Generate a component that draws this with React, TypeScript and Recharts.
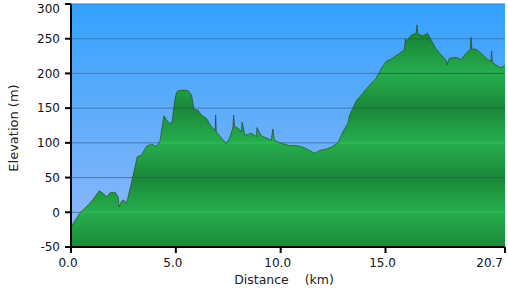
import { AreaChart, Area, XAxis, YAxis, CartesianGrid } from 'recharts';

// elevation profile (km, m)
const distanceKm = [
  0.0, 0.19, 0.43, 0.67, 0.9, 1.14, 1.35, 1.54, 1.7, 1.86, 2.1, 2.25, 2.3, 2.4, 2.49, 2.65,
  2.84, 2.97, 3.16, 3.37, 3.6, 3.84, 4.08, 4.24, 4.43, 4.56, 4.71, 4.82, 4.95, 5.03, 5.11,
  5.35, 5.59, 5.75, 5.87, 6.06, 6.22, 6.46, 6.7, 6.88, 6.9, 6.93, 7.17, 7.41, 7.57, 7.72,
  7.76, 7.8, 7.97, 8.13, 8.16, 8.29, 8.6, 8.84, 8.87, 9.08, 9.32, 9.55, 9.63, 9.7, 9.95,
  10.43, 10.75, 11.06, 11.38, 11.62, 11.86, 12.18, 12.49, 12.73, 12.97, 13.2, 13.29, 13.6,
  13.9, 14.24, 14.56, 14.8, 15.03, 15.35, 15.67, 15.9, 15.95, 15.98, 16.22, 16.46, 16.5,
  16.54, 16.78, 17.0, 17.18, 17.4, 17.64, 17.89, 17.92, 18.05, 18.37, 18.6, 18.84, 19.04,
  19.08, 19.12, 19.32, 19.56, 19.8, 20.03, 20.06, 20.1, 20.27, 20.51, 20.7,
];
const elevationM = [
  -21, -12, -1, 6, 13, 22, 31, 27, 22, 28, 29, 22, 8, 15, 18, 13,
  37, 54, 80, 83, 95, 98, 95, 102, 139, 133, 128, 130, 162, 172, 175,
  176, 175, 169, 148, 147, 140, 135, 123, 118, 140, 116, 107, 99, 107, 122,
  140, 124, 121, 116, 130, 111, 114, 109, 122, 110, 107, 104, 120, 104, 100,
  96, 96, 94, 89, 85, 89, 91, 95, 100, 116, 128, 140, 160,
  171, 183, 193, 207, 217, 222, 229, 234, 250, 246, 255, 258, 270,
  257, 254, 258, 248, 236, 227, 219, 212, 222, 223, 220, 229, 234,
  252, 235, 235, 229, 222, 217, 232, 216, 212, 208, 212,
];
const distanceTicks = [0, 5, 10, 15, 20.7];
const elevationTicks = [-50, 0, 50, 100, 150, 200, 250, 300];

const data = distanceKm.map((d, i) => ({ d, e: elevationM[i] }));

const TOP = 4;
const BOTTOM = 247;
const FONT = 'DejaVu Sans, Verdana, sans-serif';

const off = (v: number) => (300 - v) / 350;
const px = 0.5 / (BOTTOM - TOP);

// banded green fill, light at each hundred, dark at each odd fifty
const greenStops: { o: number; c: string }[] = [];
for (let v = 300; v >= -50; v -= 50) {
  const light = v % 100 === 0;
  const base = light ? '#25ad4c' : '#1b893a';
  const line = v === 0 || v === 100 ? '#2db656' : '#17773a';
  const o = off(v);
  if (v < 300 && v > -50) {
    greenStops.push({ o: o - px * 2, c: base });
    greenStops.push({ o: o - px, c: line });
    greenStops.push({ o: o + px, c: line });
    greenStops.push({ o: o + px * 2, c: base });
  } else {
    greenStops.push({ o, c: base });
  }
}

function XTick(props: any) {
  const { x, y, payload } = props;
  const last = payload.value === distanceTicks[distanceTicks.length - 1];
  return (
    <text
      x={last ? 503 : x - 3}
      y={y}
      dy="0.71em"
      textAnchor={last ? 'end' : 'middle'}
      fill="#111"
      fontSize={12}
      fontFamily={FONT}
    >
      {payload.value.toFixed(1)}
    </text>
  );
}

function YTick(props: any) {
  const { x, y, payload } = props;
  return (
    <text
      x={x}
      y={Math.max(y, 9)}
      dy="0.355em"
      textAnchor="end"
      fill="#111"
      fontSize={12}
      fontFamily={FONT}
    >
      {payload.value}
    </text>
  );
}

export default function App() {
  return (
    <div style={{ width: 508, height: 296, background: '#fff' }}>
      <style>{'body{margin:0}'}</style>
      <AreaChart
        width={508}
        height={296}
        data={data}
        margin={{ top: TOP, right: 3, left: 0, bottom: 0 }}
      >
        <defs>
          <linearGradient id="sky" x1="0" y1="0" x2="0" y2="1">
            <stop offset="0%" stopColor="#34a2fe" />
            <stop offset="100%" stopColor="#93b9f9" />
          </linearGradient>
          <linearGradient id="ground" gradientUnits="userSpaceOnUse" x1="0" y1={TOP} x2="0" y2={BOTTOM}>
            {greenStops.map((s, i) => (
              <stop key={i} offset={s.o} stopColor={s.c} />
            ))}
          </linearGradient>
        </defs>
        <CartesianGrid vertical={false} stroke="#4677b0" fill="url(#sky)" fillOpacity={1} />
        <XAxis
          dataKey="d"
          type="number"
          domain={[0, 20.7]}
          ticks={distanceTicks}
          interval={0}
          height={49}
          tickSize={6}
          tickMargin={5}
          axisLine={{ stroke: '#000', strokeWidth: 2 }}
          tickLine={{ stroke: '#000', strokeWidth: 2 }}
          tick={<XTick />}
          label={() => (
            <text
              x={284}
              y={284}
              textAnchor="middle"
              fill="#222"
              fontSize={12.5}
              fontFamily={FONT}
              style={{ whiteSpace: 'pre' }}
            >
              {'Distance    (km)'}
            </text>
          )}
        />
        <YAxis
          dataKey="e"
          type="number"
          domain={[-50, 300]}
          ticks={elevationTicks}
          interval={0}
          width={71}
          tickSize={6}
          tickMargin={5}
          axisLine={{ stroke: '#000', strokeWidth: 2 }}
          tickLine={{ stroke: '#000', strokeWidth: 2 }}
          tick={<YTick />}
          label={() => (
            <text
              x={0}
              y={0}
              transform="translate(18,128) rotate(-90)"
              textAnchor="middle"
              fill="#222"
              fontSize={13}
              fontFamily={FONT}
            >
              Elevation (m)
            </text>
          )}
        />
        <Area
          type="linear"
          dataKey="e"
          baseValue="dataMin"
          stroke="#2b3a33"
          strokeOpacity={0.65}
          strokeWidth={1}
          fill="url(#ground)"
          fillOpacity={1}
          isAnimationActive={false}
        />
      </AreaChart>
    </div>
  );
}
